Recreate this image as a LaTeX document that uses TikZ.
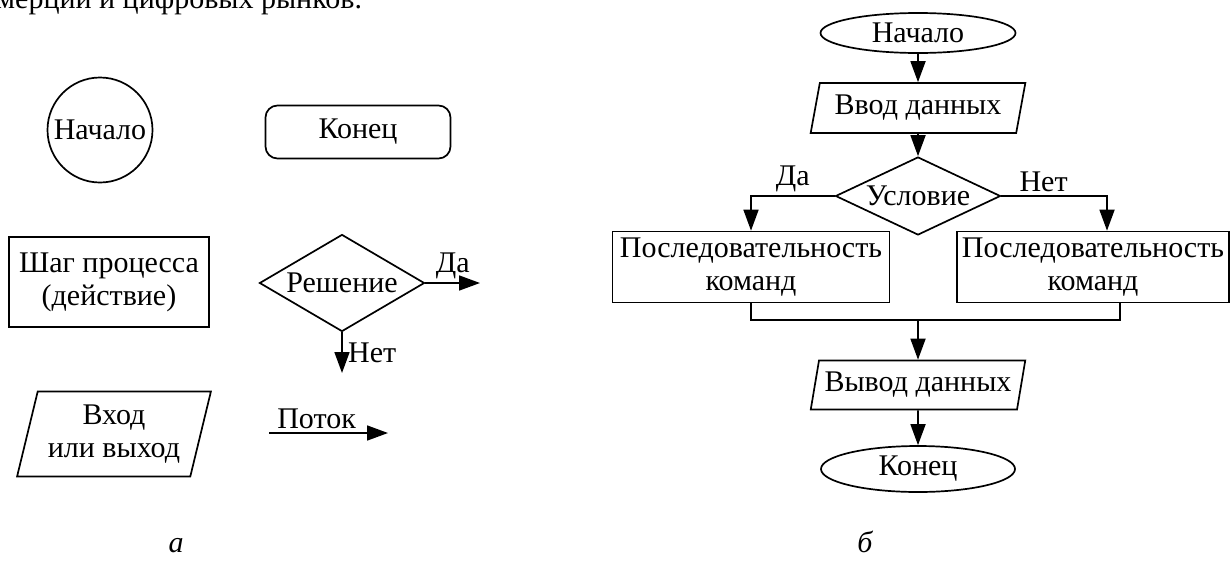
\documentclass[tikz,border=0pt]{standalone}
\usepackage{fontspec}
\setmainfont{Liberation Serif}
\usetikzlibrary{shapes.geometric, arrows.meta}

\begin{document}
\begin{tikzpicture}[x=1pt, y=-1pt,
  every node/.style={font=\fontsize{30}{33}\selectfont},
  box/.style={draw, line width=1.7pt, align=center, inner sep=0pt},
  io/.style={box, trapezium, trapezium left angle=73, trapezium right angle=107, trapezium stretches},
  arr/.style={line width=1.7pt, -{Triangle[length=21pt, width=15pt]}},
  wire/.style={line width=1.7pt},
  caption/.style={font=\fontsize{30}{33}\selectfont\itshape}
]

  \useasboundingbox (0,0) rectangle (1230,560);
  \clip (0,0) rectangle (1230,560);

  % --- Text line above the figure ---
  \node[anchor=base west, inner sep=0pt] (bodytext) at (-4,8) {мерции и цифровых рынков.};

  % --- a: flowchart symbols ---
  \node[box, circle, minimum size=105pt] (sym_start) at (100,130) {Начало};
  \node[box, rounded corners=12pt, minimum width=185pt, minimum height=53pt] (sym_end) at (358,132) {Конец};
  \node[box, minimum width=200pt, minimum height=90pt] (sym_step) at (109,282) {Шаг процесса\\(действие)};
  \node[box, diamond, aspect=1.7, minimum width=165pt, minimum height=97pt] (sym_dec) at (342,283) {Решение};
  \node[io, minimum width=194pt, minimum height=85pt] (sym_io) at (114,434) {Вход\\или выход};

  \coordinate (sym_yes) at (480,283);
  \coordinate (sym_no) at (342,373);
  \draw[arr] (sym_dec.east) -- node[above] {Да} (sym_yes);
  \draw[arr] (sym_dec.south) -- node[right, xshift=2pt] {Нет} (sym_no);

  \coordinate (flow_a) at (269,433);
  \coordinate (flow_b) at (388,433);
  \draw[arr] (flow_a) -- node[above, pos=0.4, inner sep=3pt] {Поток} (flow_b);

  \node[caption] (cap_a) at (176,546) {а};

  % --- b: example of an algorithm ---
  \node[box, ellipse, minimum width=195pt, minimum height=40pt] (start) at (918,33) {Начало};
  \node[io, minimum width=215pt, minimum height=50pt] (input) at (918,108) {Ввод данных};
  \node[box, diamond, aspect=2.1, minimum width=165pt, minimum height=78pt] (cond) at (918,196) {Условие};
  \node[box, minimum width=277pt, minimum height=71pt] (seq_yes) at (751,267) {Последовательность\\команд};
  \node[box, minimum width=272pt, minimum height=71pt] (seq_no) at (1093,267) {Последовательность\\команд};
  \node[io, minimum width=215pt, minimum height=49pt] (output) at (918,385) {Вывод данных};
  \node[box, ellipse, minimum width=194pt, minimum height=46pt] (stop) at (918,469) {Конец};

  \coordinate (join) at (918,320);

  \draw[arr] (start) -- (input);
  \draw[arr] (input) -- (cond);
  \draw[arr] (cond.west) -| node[above, pos=0.25] {Да} (seq_yes.north);
  \draw[arr] (cond.east) -| node[above, pos=0.2] {Нет} ([xshift=14pt]seq_no.north);
  \draw[wire] (seq_yes.south) |- (join) -| ([xshift=27pt]seq_no.south);
  \draw[arr] (join) -- (output);
  \draw[arr] (output) -- (stop);

  \node[caption] (cap_b) at (865,542) {б};

\end{tikzpicture}
\end{document}
